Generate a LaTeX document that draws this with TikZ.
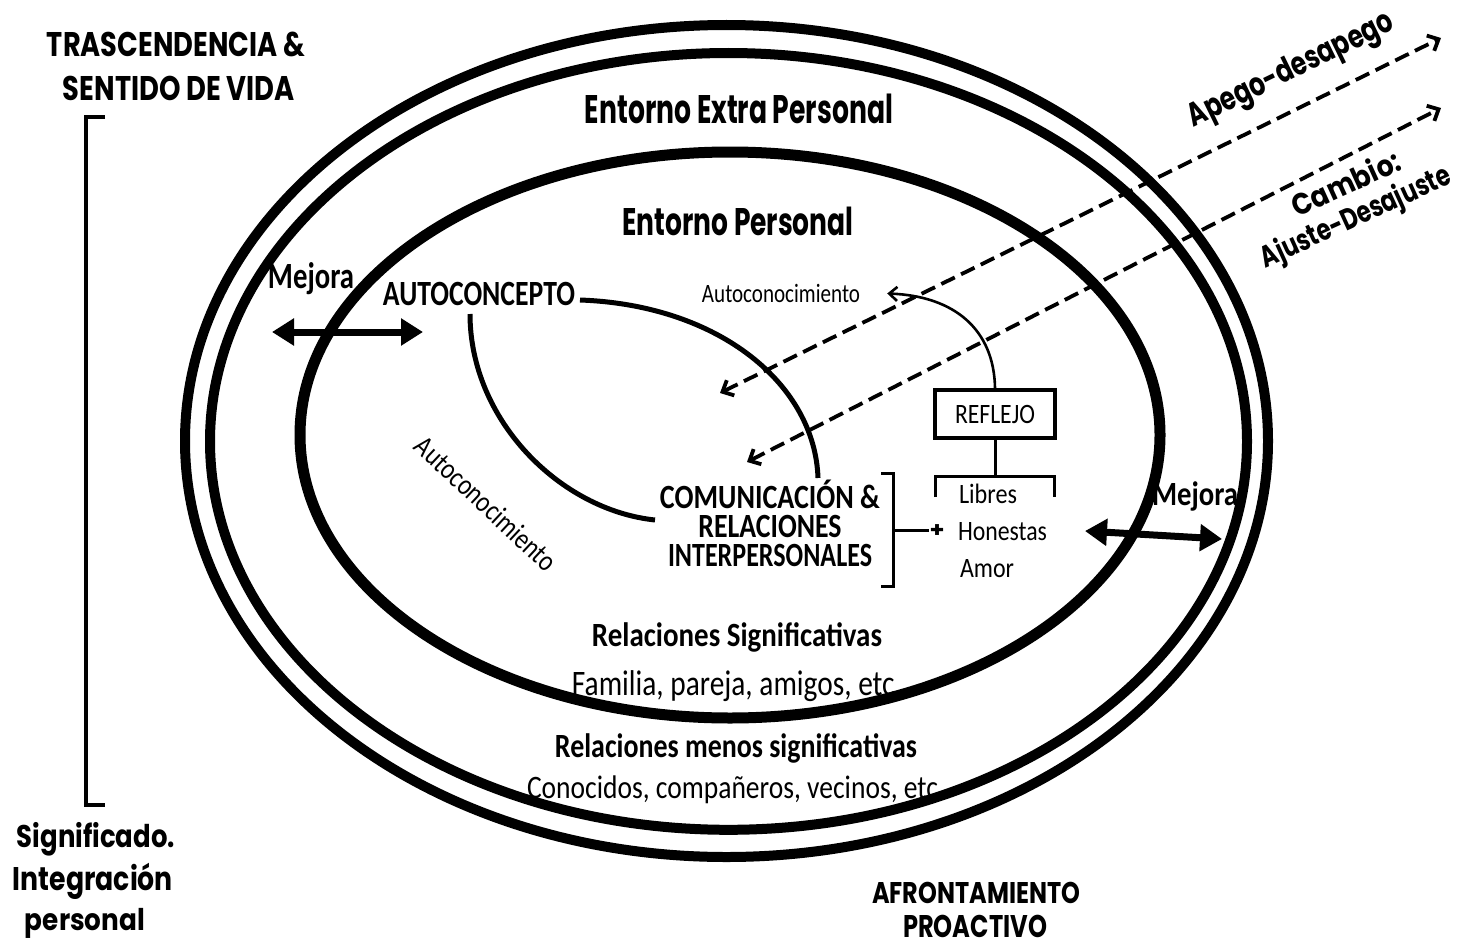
\documentclass[tikz,border=0pt]{standalone}
\usepackage{fontspec}
\usepackage{graphicx}
\setmainfont{Carlito}
\newfontfamily\gothic{Poppins}
\usetikzlibrary{arrows.meta}
\newcommand\fx[3]{\resizebox{#1pt}{#2pt}{\smash{#3}\vphantom{X}}}
\begin{document}
\begin{tikzpicture}[x=1pt,y=-1pt,
  tx/.style={inner sep=0pt, anchor=base},
  gt/.style={tx, font=\gothic\bfseries},
  cb/.style={tx, font=\bfseries},
  cr/.style={tx, font=\mdseries},
  ring/.style={line width=10pt},
  core/.style={line width=11pt},
  arcline/.style={line width=5pt},
  thin/.style={line width=3pt},
  dsh/.style={line width=3.8pt, dash pattern=on 15pt off 7pt, <->, >={Straight Barb[length=9pt,width=17pt]}},
  dbl/.style={line width=7pt, <->, >={Triangle[length=22pt,width=26pt]}},
  refbox/.style={draw, line width=4pt, inner sep=0pt, minimum width=120pt, minimum height=48pt, font=\mdseries}
]
\fill[white] (0,0) rectangle (1458,950);
\path[use as bounding box] (0,0) rectangle (1458,950);

% ellipses
\draw[ring] (726.5,441) ellipse [x radius=541.5pt, y radius=416pt];
\draw[ring] (728.5,441.4) ellipse [x radius=518.5pt, y radius=388.4pt];
\draw[core] (730,435) ellipse [x radius=430pt, y radius=283pt];

% left side texts and bracket
\node[gt] (t1) at (176,57) {\fx{258}{24}{TRASCENDENCIA \&}};
\node[gt] (t2) at (179,100) {\fx{232}{24}{SENTIDO DE VIDA}};
\draw[thin, line width=3.5pt] (105,117) -- (86,117) -- (86,805) -- (105,805);
\node[gt] (s1) at (96,847) {\fx{158}{22}{Significado.}};
\node[gt] (s2) at (93,890) {\fx{160}{23}{Integración}};
\node[gt] (s3) at (85,930) {\fx{120}{21}{personal}};

% ring titles
\node[gt] (e1) at (739,123) {\fx{308}{28}{Entorno Extra Personal}};
\node[gt] (e2) at (738,235) {\fx{231}{27}{Entorno Personal}};

% dashed arrows
\coordinate (d1a) at (720,393);
\coordinate (d1b) at (1441,38);
\coordinate (d2a) at (747,462);
\coordinate (d2b) at (1441,108);
\draw[dsh] (d1a) -- (d1b);
\draw[dsh] (d2a) -- (d2b);
\node[gt, anchor=center, rotate=26] (ap) at (1290,68) {\fx{225}{23}{Apego-desapego}};
\node[gt, anchor=center, rotate=24.5] (c1) at (1346,184) {\fx{116}{21}{Cambio:}};
\node[gt, anchor=center, rotate=24.5] (c2) at (1355,216) {\fx{206}{21}{Ajuste-Desajuste}};

% Mejora left
\node[cb] (m1) at (311,288) {\fx{86}{24}{Mejora}};
\coordinate (ml1) at (272,332);
\coordinate (ml2) at (423,332);
\draw[dbl] (ml1) -- (ml2);

% autoconcepto and curves
\node[cb] (au) at (479,305) {\fx{192}{23}{AUTOCONCEPTO}};
\node[cb] (co1) at (770,508) {\fx{220}{22}{COMUNICACIÓN \&}};
\node[cb] (co2) at (770,537) {\fx{143}{22}{RELACIONES}};
\node[cb] (co3) at (770,566) {\fx{204}{22}{INTERPERSONALES}};
\coordinate (aS) at (580,300);
\coordinate (aE) at (818,478);
\coordinate (bS) at (470,314);
\coordinate (bE) at (655,520);
\draw[arcline] (aS) .. controls (720,305) and (815,385) .. (aE);
\draw[arcline] (bS) .. controls (470,420) and (560,510) .. (bE);

% autoconocimiento
\node[cr] (k1) at (781,302) {\fx{158}{17}{Autoconocimiento}};
\node[cr, anchor=center, rotate=-43] (k2) at (486,504) {\fx{182}{19}{Autoconocimiento}};

% reflejo
\node[refbox] (rf) at (995,414) {\fx{80}{18}{REFLEJO}};
\draw[thin, line width=2.6pt, ->, >={Straight Barb[length=8pt,width=14pt]}] (rf.north) .. controls (994,330) and (955,296) .. ([xshift=27pt]k1.east);
\coordinate (br) at (995,476);
\draw[thin] (rf.south) -- (br);
\draw[thin] (935,497) -- (935,476) -- (1054,476) -- (1054,497);

% bracket and plus
\node[gt, anchor=center] (pl) at (937,530) {\fx{15}{15}{+}};
\draw[thin] (881,473) -- (893,473) -- (893,586) -- (881,586);
\draw[thin] (893,530) -- (pl.west);
\node[cr] (l1) at (988,503) {\fx{58}{18}{Libres}};
\node[cr] (l2) at (1002.5,540) {\fx{89}{18}{Honestas}};
\node[cr] (l3) at (987,577) {\fx{54}{18}{Amor}};

% Mejora right
\node[cb] (m2) at (1195,505) {\fx{86}{22}{Mejora}};
\coordinate (mr1) at (1085,531);
\coordinate (mr2) at (1222,539);
\draw[dbl] (mr1) -- (mr2);

% relations
\node[cb] (rs) at (737,646) {\fx{290}{22}{Relaciones Significativas}};
\node[cr] (fa) at (737,695) {\fx{330}{23}{Familia, pareja, amigos, etc.}};
\node[cb] (rm) at (736,757) {\fx{362}{22}{Relaciones menos significativas}};
\node[cr] (cn) at (732.5,798) {\fx{411}{21}{Conocidos, compañeros, vecinos, etc}};

% afrontamiento
\node[gt] (af1) at (976,903) {\fx{208}{21}{AFRONTAMIENTO}};
\node[gt] (af2) at (975,937) {\fx{144}{22}{PROACTIVO}};
\end{tikzpicture}
\end{document}
